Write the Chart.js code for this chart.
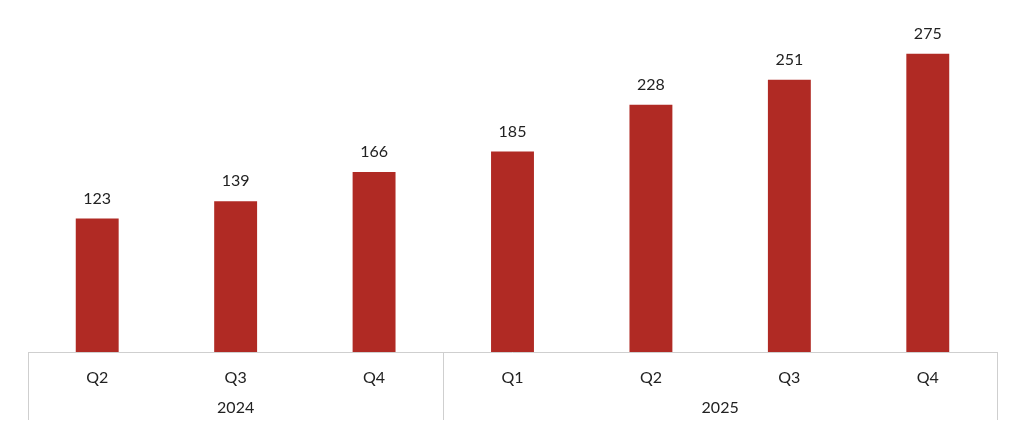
<!DOCTYPE html>
<html><head><meta charset="utf-8">
<script src="https://cdn.jsdelivr.net/npm/chart.js@4"></script>
<style>html,body{margin:0;padding:0;background:#fff}#wrap{width:1024px;height:433px}</style>
</head><body><div id="wrap"><canvas id="c"></canvas></div>
<script>
const quarters = ["Q2","Q3","Q4","Q1","Q2","Q3","Q4"];
const years = ["2024","2024","2024","2025","2025","2025","2025"];
const values = [123,139,166,185,228,251,275];
const FONT = "Lato, 'Open Sans', sans-serif";
const overlay = {
  id:'overlay',
  afterDraw(chart){
    const {ctx, chartArea:a, scales:{x,y}} = chart;
    ctx.save();
    ctx.font = "16px "+FONT; ctx.fillStyle="#222"; ctx.textAlign="center"; ctx.textBaseline="bottom";
    values.forEach((v,i)=>{ ctx.fillText(String(v), x.getPixelForValue(i), y.getPixelForValue(v)-12); });
    ctx.strokeStyle="#cfcfcf"; ctx.lineWidth=1;
    ctx.beginPath(); ctx.moveTo(a.left,a.bottom+0.5); ctx.lineTo(a.right,a.bottom+0.5); ctx.stroke();
    const half = (x.getPixelForValue(1)-x.getPixelForValue(0))/2;
    const bounds=[a.left];
    for(let i=1;i<years.length;i++) if(years[i]!==years[i-1]) bounds.push(x.getPixelForValue(i)-half);
    bounds.push(a.right);
    bounds.forEach(b=>{ctx.beginPath();ctx.moveTo(Math.round(b)+0.5,a.bottom);ctx.lineTo(Math.round(b)+0.5,a.bottom+68);ctx.stroke();});
    ctx.textBaseline="middle";
    quarters.forEach((q,i)=>ctx.fillText(q, x.getPixelForValue(i), a.bottom+26));
    let s=0;
    for(let i=1;i<=years.length;i++){
      if(i===years.length||years[i]!==years[s]){
        const l=x.getPixelForValue(s)-half, r=x.getPixelForValue(i-1)+half;
        ctx.fillText(years[s],(l+r)/2,a.bottom+56); s=i;
      }
    }
    ctx.restore();
  }
};
new Chart(document.getElementById('c'),{
  type:'bar',
  data:{labels:quarters,datasets:[{data:values,backgroundColor:'#B02A24',barPercentage:0.31,categoryPercentage:1}]},
  options:{responsive:true,maintainAspectRatio:false,animation:false,
    layout:{padding:{top:5,bottom:81,left:28,right:27}},
    plugins:{legend:{display:false},tooltip:{enabled:false}},
    scales:{x:{display:false},y:{display:false,min:0,max:320}}},
  plugins:[overlay]
});
</script></body></html>
